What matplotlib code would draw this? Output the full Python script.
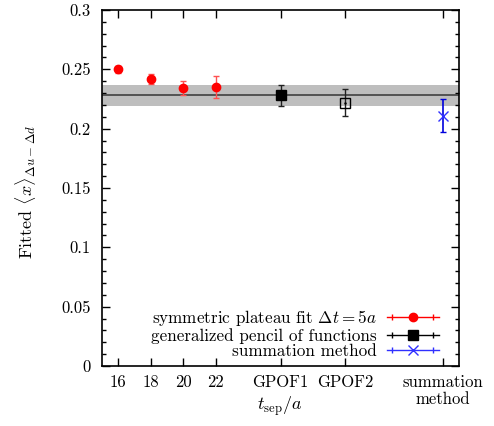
import numpy as np
import matplotlib
matplotlib.use("Agg")
import matplotlib.pyplot as plt
from matplotlib.lines import Line2D
from matplotlib.legend_handler import HandlerLine2D, HandlerTuple

plt.rcParams['font.family'] = 'serif'
plt.rcParams['font.serif'] = ['cmr10', 'DejaVu Serif']
plt.rcParams['mathtext.fontset'] = 'cm'
plt.rcParams['axes.formatter.use_mathtext'] = True

# plateau fits at several source-sink separations
tsep = [16, 18, 20, 22]
plateau_val = [0.250, 0.242, 0.2345, 0.235]
plateau_err = [0.003, 0.004, 0.006, 0.0095]

# generalized pencil of functions
gpof_x = [26, 30]
gpof_val = [0.228, 0.222]
gpof_err = [0.0085, 0.0115]

# summation method
summ_x = [36]
summ_val = [0.211]
summ_err = [0.0138]

# final band
band_val = 0.228
band_err = 0.0086

tick_pos = [16, 18, 20, 22, 26, 30, 36]
tick_lab = ['16', '18', '20', '22', 'GPOF1', 'GPOF2', 'summation\nmethod']

fig = plt.figure(figsize=(4.94, 4.26), dpi=100)
ax = fig.add_axes([102/494, 60/426, 357/494, 356/426])

xl = (15, 37)
ax.fill_between(xl, band_val - band_err, band_val + band_err, color='#bebebe', lw=0, zorder=1)
ax.plot(xl, [band_val, band_val], color='#404040', lw=1.2, zorder=2)

ax.errorbar(tsep, plateau_val, yerr=plateau_err, fmt='o', color='red', ms=6,
            ecolor='#ff5050', elinewidth=1, capsize=2.3, zorder=3)
ax.errorbar(gpof_x[:1], gpof_val[:1], yerr=gpof_err[:1], fmt='s', color='black', ms=7,
            ecolor='#202020', elinewidth=1, capsize=2.3, zorder=3)
ax.errorbar(gpof_x[1:], gpof_val[1:], yerr=gpof_err[1:], fmt='s', color='black', ms=7,
            mfc='none', ecolor='#202020', elinewidth=1, capsize=2.3, zorder=3)
ax.plot(gpof_x[1:], gpof_val[1:], '.', color='black', ms=1.5, zorder=4)
ax.errorbar(summ_x, summ_val, yerr=summ_err, fmt='x', color='#3030ff', ms=7, mew=1,
            ecolor='#0000dd', elinewidth=1.2, capsize=2.3, zorder=3)

ax.set_xlim(*xl)
ax.set_ylim(0, 0.3)
ax.set_xticks(tick_pos)
ax.set_xticklabels(tick_lab, fontsize=12)
ax.set_yticks(np.arange(0, 0.301, 0.05))
ax.set_yticklabels(['0', '0.05', '0.1', '0.15', '0.2', '0.25', '0.3'], fontsize=12)
ax.set_yticks(np.arange(0, 0.301, 0.01), minor=True)
ax.tick_params(which='both', direction='in', top=True, right=True, width=1)
ax.tick_params(which='major', length=6)
ax.tick_params(which='minor', length=3)
ax.tick_params(axis='x', pad=6)
ax.tick_params(axis='y', pad=8)
for sp in ax.spines.values():
    sp.set_linewidth(1.2)

ax.set_xlabel(r'$t_{\rm sep}/a$', fontsize=13)
ax.xaxis.set_label_coords(0.4986, -0.08)
ax.set_ylabel(r'Fitted $\langle x\rangle_{\Delta u-\Delta d}$', fontsize=13)
ax.yaxis.set_label_coords(-0.18, 0.49)

# gnuplot style legend: horizontal error bar with marker in the middle
def key(color, marker, mfc=None):
    bar = Line2D([], [], color=color, lw=1)
    caps = Line2D([], [], color=color, ls='none', marker='|', ms=5, mew=1)
    mk = Line2D([], [], color=color, ls='none', marker=marker, ms=7 if marker != 'o' else 6,
                mfc=mfc if mfc else color)
    return (bar, caps, mk), caps

h1, c1 = key('red', 'o')
h2, c2 = key('black', 's')
h3, c3 = key('#3030ff', 'x')
hm = {c: HandlerLine2D(numpoints=2) for c in (c1, c2, c3)}
hm[tuple] = HandlerTuple(ndivide=1, pad=0)
ax.legend([h1, h2, h3],
          [r'symmetric plateau fit $\Delta t=5a$', 'generalized pencil of functions',
           'summation method'],
          handler_map=hm, loc='lower right', markerfirst=False, frameon=False,
          fontsize=12.3, handlelength=3.0, handletextpad=0.6, labelspacing=0.0,
          borderaxespad=0, bbox_to_anchor=(0.962, 0.0))

fig.savefig('out.png', dpi=100)
